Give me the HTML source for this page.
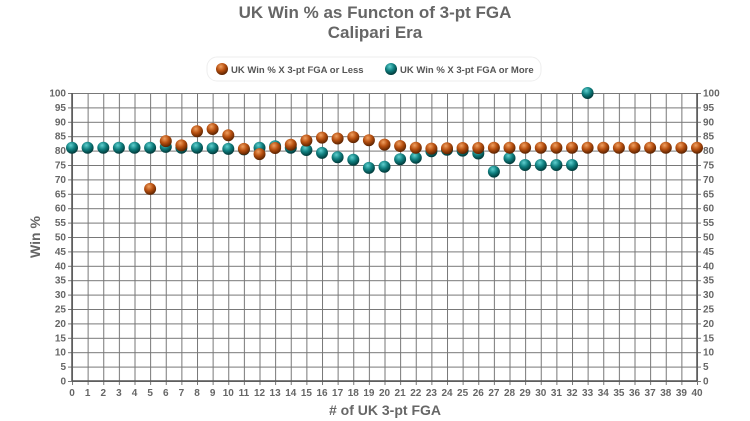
<!DOCTYPE html><html><head><style>body{margin:0;background:#fff}svg{display:block;font-family:"Liberation Sans",sans-serif}.a{font-size:10px;font-weight:bold;fill:#666}</style></head><body>
<svg width="750" height="421" xmlns="http://www.w3.org/2000/svg">
<defs>
<radialGradient id="o" cx="0.4" cy="0.3" r="0.7"><stop offset="0" stop-color="#f0a060"/><stop offset="0.5" stop-color="#b85010"/><stop offset="1" stop-color="#5a2200"/></radialGradient>
<radialGradient id="t" cx="0.4" cy="0.3" r="0.7"><stop offset="0" stop-color="#60d0d0"/><stop offset="0.5" stop-color="#108080"/><stop offset="1" stop-color="#003838"/></radialGradient>
<pattern id="gv" x="72" y="0" width="15.625" height="10" patternUnits="userSpaceOnUse"><line x1="0.5" y1="0" x2="0.5" y2="10" stroke="#777" stroke-width="1"/></pattern>
<pattern id="gh" x="0" y="93" width="10" height="14.4" patternUnits="userSpaceOnUse"><line x1="0" y1="0.5" x2="10" y2="0.5" stroke="#777" stroke-width="1"/></pattern>
</defs>
<text x="375" y="18" text-anchor="middle" font-size="17" font-weight="bold" fill="#666">UK Win % as Functon of 3-pt FGA</text>
<text x="375" y="38" text-anchor="middle" font-size="17" font-weight="bold" fill="#666">Calipari Era</text>
<rect x="207" y="57" width="334" height="24" rx="10" fill="#fff" stroke="#eee"/>
<circle cx="222" cy="69" r="6" fill="url(#o)"/><text x="231" y="73" font-size="9.5" font-weight="bold" fill="#555">UK Win % X 3-pt FGA or Less</text>
<circle cx="391" cy="69" r="6" fill="url(#t)"/><text x="400" y="73" font-size="9.5" font-weight="bold" fill="#555">UK Win % X 3-pt FGA or More</text>
<rect x="71.5" y="93" width="627" height="292" fill="url(#gv)"/>
<rect x="68" y="92.5" width="633" height="290" fill="url(#gh)"/>
<line x1="72" y1="93" x2="72" y2="381" stroke="#555" stroke-width="1.5"/>
<line x1="697" y1="93" x2="697" y2="381" stroke="#555" stroke-width="1.5"/>
<line x1="72" y1="381" x2="697" y2="381" stroke="#555" stroke-width="1.5"/>
<g class="a" text-anchor="middle">
<text x="72" y="396">0</text><text x="87.6" y="396">1</text><text x="103.3" y="396">2</text><text x="118.9" y="396">3</text><text x="134.5" y="396">4</text><text x="150.1" y="396">5</text><text x="165.8" y="396">6</text><text x="181.4" y="396">7</text><text x="197" y="396">8</text><text x="212.6" y="396">9</text><text x="228.3" y="396">10</text><text x="243.9" y="396">11</text><text x="259.5" y="396">12</text><text x="275.1" y="396">13</text><text x="290.8" y="396">14</text><text x="306.4" y="396">15</text><text x="322" y="396">16</text><text x="337.6" y="396">17</text><text x="353.3" y="396">18</text><text x="368.9" y="396">19</text><text x="384.5" y="396">20</text><text x="400.1" y="396">21</text><text x="415.8" y="396">22</text><text x="431.4" y="396">23</text><text x="447" y="396">24</text><text x="462.6" y="396">25</text><text x="478.3" y="396">26</text><text x="493.9" y="396">27</text><text x="509.5" y="396">28</text><text x="525.1" y="396">29</text><text x="540.8" y="396">30</text><text x="556.4" y="396">31</text><text x="572" y="396">32</text><text x="587.6" y="396">33</text><text x="603.3" y="396">34</text><text x="618.9" y="396">35</text><text x="634.5" y="396">36</text><text x="650.1" y="396">37</text><text x="665.8" y="396">38</text><text x="681.4" y="396">39</text><text x="697" y="396">40</text>
</g>
<g class="a" text-anchor="end">
<text x="66" y="384.5">0</text><text x="66" y="370.1">5</text><text x="66" y="355.7">10</text><text x="66" y="341.3">15</text><text x="66" y="326.9">20</text><text x="66" y="312.5">25</text><text x="66" y="298.1">30</text><text x="66" y="283.7">35</text><text x="66" y="269.3">40</text><text x="66" y="254.9">45</text><text x="66" y="240.5">50</text><text x="66" y="226.1">55</text><text x="66" y="211.7">60</text><text x="66" y="197.3">65</text><text x="66" y="182.9">70</text><text x="66" y="168.5">75</text><text x="66" y="154.1">80</text><text x="66" y="139.7">85</text><text x="66" y="125.3">90</text><text x="66" y="110.9">95</text><text x="66" y="96.5">100</text>
</g>
<g class="a">
<text x="703" y="384.5">0</text><text x="703" y="370.1">5</text><text x="703" y="355.7">10</text><text x="703" y="341.3">15</text><text x="703" y="326.9">20</text><text x="703" y="312.5">25</text><text x="703" y="298.1">30</text><text x="703" y="283.7">35</text><text x="703" y="269.3">40</text><text x="703" y="254.9">45</text><text x="703" y="240.5">50</text><text x="703" y="226.1">55</text><text x="703" y="211.7">60</text><text x="703" y="197.3">65</text><text x="703" y="182.9">70</text><text x="703" y="168.5">75</text><text x="703" y="154.1">80</text><text x="703" y="139.7">85</text><text x="703" y="125.3">90</text><text x="703" y="110.9">95</text><text x="703" y="96.5">100</text>
</g>
<g fill="url(#t)">
<circle cx="72" cy="147.7" r="6"/><circle cx="87.6" cy="147.7" r="6"/><circle cx="103.3" cy="147.7" r="6"/><circle cx="118.9" cy="147.7" r="6"/><circle cx="134.5" cy="147.7" r="6"/><circle cx="150.1" cy="147.7" r="6"/><circle cx="165.8" cy="146.9" r="6"/><circle cx="181.4" cy="147.7" r="6"/><circle cx="197" cy="147.7" r="6"/><circle cx="212.6" cy="148.3" r="6"/><circle cx="228.3" cy="148.9" r="6"/><circle cx="243.9" cy="149.4" r="6"/><circle cx="259.5" cy="147.7" r="6"/><circle cx="275.1" cy="146.3" r="6"/><circle cx="290.8" cy="147.7" r="6"/><circle cx="306.4" cy="150" r="6"/><circle cx="322" cy="152.9" r="6"/><circle cx="337.6" cy="157.2" r="6"/><circle cx="353.3" cy="159.8" r="6"/><circle cx="368.9" cy="167.9" r="6"/><circle cx="384.5" cy="166.7" r="6"/><circle cx="400.1" cy="159.2" r="6"/><circle cx="415.8" cy="157.8" r="6"/><circle cx="431.4" cy="151.2" r="6"/><circle cx="447" cy="149.7" r="6"/><circle cx="462.6" cy="150.6" r="6"/><circle cx="478.3" cy="153.5" r="6"/><circle cx="493.9" cy="171.6" r="6"/><circle cx="509.5" cy="158.1" r="6"/><circle cx="525.1" cy="165" r="6"/><circle cx="540.8" cy="165" r="6"/><circle cx="556.4" cy="165" r="6"/><circle cx="572" cy="165" r="6"/><circle cx="587.6" cy="93" r="6"/>
</g>
<g fill="url(#o)">
<circle cx="150.1" cy="188.9" r="6"/><circle cx="165.8" cy="141.1" r="6"/><circle cx="181.4" cy="145.4" r="6"/><circle cx="197" cy="131.3" r="6"/><circle cx="212.6" cy="129" r="6"/><circle cx="228.3" cy="135.3" r="6"/><circle cx="243.9" cy="148.9" r="6"/><circle cx="259.5" cy="154.1" r="6"/><circle cx="275.1" cy="148" r="6"/><circle cx="290.8" cy="144.8" r="6"/><circle cx="306.4" cy="140.5" r="6"/><circle cx="322" cy="137.6" r="6"/><circle cx="337.6" cy="138.5" r="6"/><circle cx="353.3" cy="137.1" r="6"/><circle cx="368.9" cy="140.2" r="6"/><circle cx="384.5" cy="144.6" r="6"/><circle cx="400.1" cy="146" r="6"/><circle cx="415.8" cy="147.7" r="6"/><circle cx="431.4" cy="148.6" r="6"/><circle cx="447" cy="148.3" r="6"/><circle cx="462.6" cy="148" r="6"/><circle cx="478.3" cy="148" r="6"/><circle cx="493.9" cy="147.7" r="6"/><circle cx="509.5" cy="147.7" r="6"/><circle cx="525.1" cy="147.7" r="6"/><circle cx="540.8" cy="147.7" r="6"/><circle cx="556.4" cy="147.7" r="6"/><circle cx="572" cy="147.7" r="6"/><circle cx="587.6" cy="147.7" r="6"/><circle cx="603.3" cy="147.7" r="6"/><circle cx="618.9" cy="147.7" r="6"/><circle cx="634.5" cy="147.7" r="6"/><circle cx="650.1" cy="147.7" r="6"/><circle cx="665.8" cy="147.7" r="6"/><circle cx="681.4" cy="147.7" r="6"/><circle cx="697" cy="147.7" r="6"/>
</g>
<text x="40" y="237" text-anchor="middle" font-size="14" font-weight="bold" fill="#666" transform="rotate(-90 40 237)">Win %</text>
<text x="385" y="415" text-anchor="middle" font-size="14" font-weight="bold" fill="#666"># of UK 3-pt FGA</text>
</svg></body></html>
